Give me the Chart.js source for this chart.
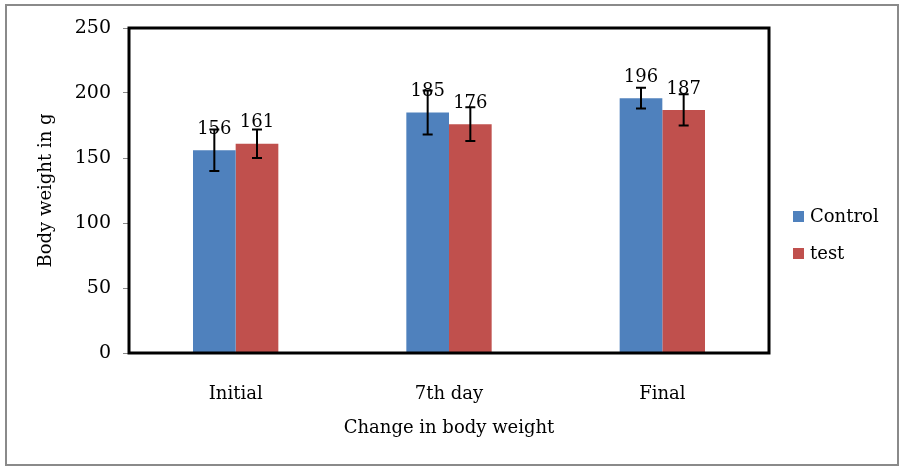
<!DOCTYPE html>
<html>
<head>
<meta charset="utf-8">
<script src="https://cdn.jsdelivr.net/npm/chart.js@4/dist/chart.umd.min.js"></script>
<style>
  html, body { margin: 0; padding: 0; background: #fff; }
  #wrap { width: 904px; height: 470px; position: relative; }
</style>
</head>
<body>
<div id="wrap"><canvas id="chart"></canvas></div>
<script>
const categories = ["Initial", "7th day", "Final"];
const controlValues = [156, 185, 196];
const testValues = [161, 176, 187];
const controlErrors = [16, 17, 8];
const testErrors = [11, 13, 12];
const yTicks = [0, 50, 100, 150, 200, 250];

const fontFamily = "'DejaVu Serif', 'Liberation Serif', serif";

// black frame round the plot, grey frame round the picture, error bars, value labels, legend
const extras = {
  id: "extras",
  afterDatasetsDraw(chart) {
    const ctx = chart.ctx;
    const y = chart.scales.y;
    const errs = [controlErrors, testErrors];
    ctx.save();
    chart.data.datasets.forEach((ds, i) => {
      const meta = chart.getDatasetMeta(i);
      meta.data.forEach((bar, j) => {
        const v = ds.data[j];
        const e = errs[i][j];
        const top = y.getPixelForValue(v + e);
        const bot = y.getPixelForValue(v - e);
        ctx.strokeStyle = "#000";
        ctx.lineWidth = 2;
        ctx.beginPath();
        ctx.moveTo(bar.x, top);
        ctx.lineTo(bar.x, bot);
        ctx.moveTo(bar.x - 5, top);
        ctx.lineTo(bar.x + 5, top);
        ctx.moveTo(bar.x - 5, bot);
        ctx.lineTo(bar.x + 5, bot);
        ctx.stroke();
      });
    });
    chart.data.datasets.forEach((ds, i) => {
      const meta = chart.getDatasetMeta(i);
      meta.data.forEach((bar, j) => {
        ctx.fillStyle = "#000";
        ctx.font = "18px " + fontFamily;
        ctx.textAlign = "center";
        ctx.textBaseline = "middle";
        ctx.fillText(String(ds.data[j]), bar.x, bar.y - 21);
      });
    });
    ctx.restore();
  },
  afterDraw(chart) {
    const ctx = chart.ctx;
    const a = chart.chartArea;
    ctx.save();
    ctx.strokeStyle = "#000";
    ctx.lineWidth = 3;
    ctx.strokeRect(a.left, a.top, a.right - a.left, a.bottom - a.top);
    ctx.strokeStyle = "#8a8a8a";
    ctx.lineWidth = 2;
    ctx.strokeRect(6, 5, 892, 460);
    // legend
    const items = chart.data.datasets;
    items.forEach((ds, i) => {
      const cy = 216 + i * 37;
      ctx.fillStyle = ds.backgroundColor;
      ctx.fillRect(793, cy - 5, 11, 11);
      ctx.fillStyle = "#000";
      ctx.font = "18px " + fontFamily;
      ctx.textAlign = "left";
      ctx.textBaseline = "middle";
      ctx.fillText(ds.label, 810, cy + 1);
    });
    ctx.restore();
  }
};

new Chart(document.getElementById("chart"), {
  type: "bar",
  data: {
    labels: categories,
    datasets: [
      { label: "Control", data: controlValues, backgroundColor: "#4F81BD" },
      { label: "test", data: testValues, backgroundColor: "#C0504D" }
    ]
  },
  options: {
    responsive: true,
    maintainAspectRatio: false,
    animation: false,
    layout: { padding: { left: 0, right: 135, top: 28, bottom: 0 } },
    datasets: { bar: { categoryPercentage: 0.4, barPercentage: 1.0 } },
    plugins: {
      legend: { display: false },
      tooltip: { enabled: false }
    },
    scales: {
      x: {
        grid: { display: false },
        border: { display: false },
        ticks: { color: "#000", padding: 23, font: { family: fontFamily, size: 18 } },
        title: {
          display: true,
          text: "Change in body weight",
          color: "#000",
          font: { family: fontFamily, size: 18 },
          padding: { top: 0, bottom: 31 }
        },
        afterFit(scale) { scale.height = 117; }
      },
      y: {
        min: 0,
        max: 250,
        afterBuildTicks(scale) { scale.ticks = yTicks.map(v => ({ value: v })); },
        grid: { drawOnChartArea: false, drawTicks: true, tickLength: 6, color: "#888" },
        border: { display: false },
        ticks: { color: "#000", padding: 12, font: { family: fontFamily, size: 19 } },
        title: {
          display: true,
          text: "Body weight in g",
          color: "#000",
          font: { family: fontFamily, size: 18 },
          padding: { top: 36, bottom: 0 }
        },
        afterFit(scale) { scale.width = 129; }
      }
    }
  },
  plugins: [extras]
});
</script>
</body>
</html>
